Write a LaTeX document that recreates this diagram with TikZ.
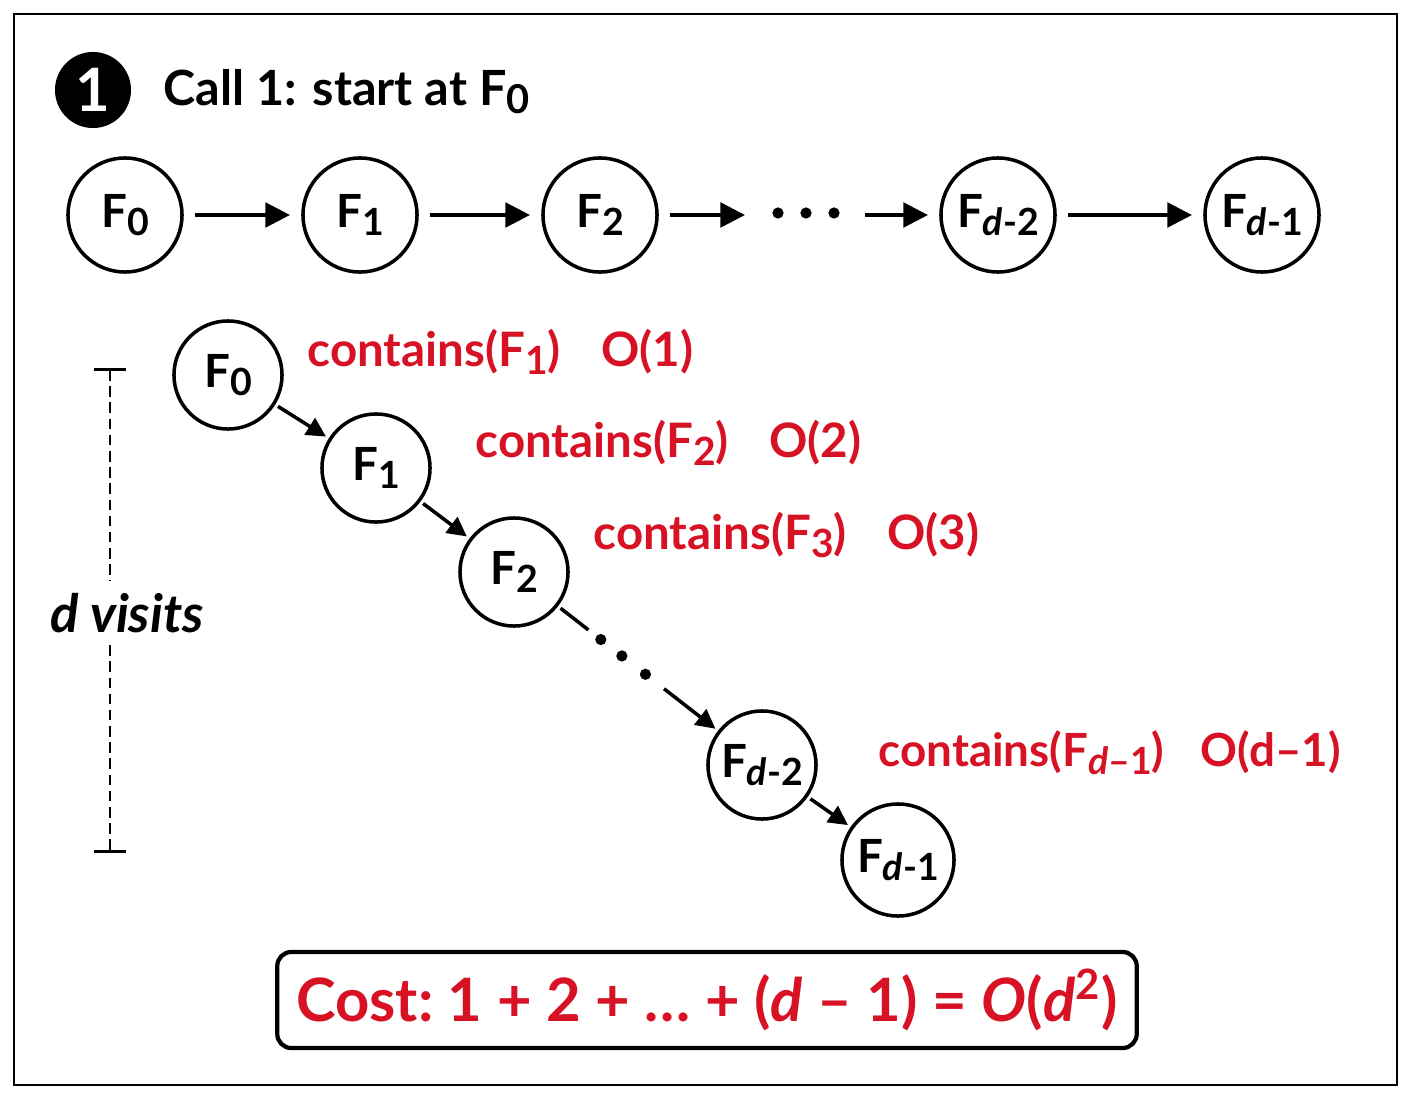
\documentclass[tikz,border=0pt]{standalone}
\usepackage{fontspec}
\setmainfont{Lato}
\usetikzlibrary{arrows.meta,calc}
\definecolor{costred}{RGB}{214,18,36}
\newcommand\fsub[1]{\raisebox{-0.35ex}{\scalebox{0.82}{#1}}}

\begin{document}
\begin{tikzpicture}[x=0.01cm,y=-0.01cm,font=\bfseries,
    fnode/.style={circle,draw,line width=1pt,minimum size=1.14cm,inner sep=0pt,
      outer sep=0.13cm,font=\fontsize{13}{15}\bfseries},
    dnode/.style={fnode,minimum size=1.08cm,outer sep=0.05cm},
    link/.style={line width=1pt,-{Triangle[length=7pt,width=7pt]}},
    dlink/.style={line width=1pt,-{Triangle[length=5.5pt,width=5.5pt]}},
    cost/.style={text=costred,font=\fontsize{13.5}{15}\bfseries,anchor=base west,inner sep=0pt}]
  \useasboundingbox (0,0) rectangle (1412,1100);
  \draw[line width=0.6pt] (14,14) rectangle (1397,1085);
  \node[circle,fill=black,text=white,minimum size=0.76cm,inner sep=0pt,
    font=\fontsize{17}{18}\bfseries] (badge) at (93,90) {1};
  \node[anchor=base west,inner sep=0pt,font=\fontsize{13.8}{16}\bfseries] (title) at (163,105)
    {Call 1: start at F\fsub{0}};
  % chain
  \node[fnode] (T0) at (125,215) {F\fsub{0}};
  \node[fnode] (T1) at (360,215) {F\fsub{1}};
  \node[fnode] (T2) at (600,215) {F\fsub{2}};
  \node[fnode] (Td2) at (998,215) {F\fsub{\textit{d}-2}};
  \node[fnode] (Td1) at (1262,215) {F\fsub{\textit{d}-1}};
  \coordinate (ta) at (745,215);
  \coordinate (tb) at (865,215);
  \draw[link] (T0) -- (T1);
  \draw[link] (T1) -- (T2);
  \draw[link] (T2) -- (ta);
  \foreach \x in {778,806,834} \fill (\x,213) circle (1.6pt);
  \draw[link] (tb) -- (Td2);
  \draw[link] (Td2) -- (Td1);
  % visits
  \node[dnode] (D0) at (228,375) {F\fsub{0}};
  \node[dnode] (D1) at (376,468) {F\fsub{1}};
  \node[dnode] (D2) at (514,572) {F\fsub{2}};
  \node[dnode] (Dd2) at (762,765) {F\fsub{\textit{d}-2}};
  \node[dnode,minimum size=1.12cm] (Dd1) at (898,860) {F\fsub{\textit{d}-1}};
  \draw[dlink] (D0) -- (D1);
  \draw[dlink] (D1) -- (D2);
  \path ($(D2)!0.3!(Dd2)$) coordinate (g1) ($(D2)!0.605!(Dd2)$) coordinate (g2);
  \draw[line width=1pt] (D2) -- (g1);
  \foreach \t in {0.35,0.435,0.53} \fill ($(D2)!\t!(Dd2)$) circle (1.6pt);
  \draw[dlink] (g2) -- (Dd2);
  \draw[dlink] (Dd2) -- (Dd1);
  \node[cost] (c1) at (307,366) {contains(F\fsub{1})\hspace{0.85em}O(1)};
  \node[cost] (c2) at (475,457) {contains(F\fsub{2})\hspace{0.85em}O(2)};
  \node[cost] (c3) at (593,549) {contains(F\fsub{3})\hspace{0.85em}O(3)};
  \node[cost,font=\fontsize{13}{15}\bfseries] (c4) at (878,766)
    {contains(F\fsub{\textit{d}–1})\hspace{0.8em}O(d–1)};
  % d visits
  \node[font=\fontsize{15}{17}\bfseries\itshape] (visits) at (127,613) {d visits};
  \coordinate (vtop) at (110,368);
  \coordinate (vbot) at (110,853);
  \draw[line width=0.8pt,dash pattern=on 3pt off 1.6pt,{Bar[width=9pt]}-]
    (vtop) -- (vtop |- visits.north);
  \draw[line width=0.8pt,dash pattern=on 3pt off 1.6pt,-{Bar[width=9pt]}]
    (vbot |- visits.south) -- (vbot);
  % total
  \node[draw,line width=1.2pt,rounded corners=4pt,minimum width=8.59cm,
    minimum height=0.96cm,inner xsep=2pt,text=costred,font=\fontsize{17}{19}\bfseries]
    (total) at (707,1000)
    {Cost:\ 1 + 2 + … + (\textit{d} – 1) = \textit{O}(\textit{d}\textsuperscript{2})};
\end{tikzpicture}
\end{document}
